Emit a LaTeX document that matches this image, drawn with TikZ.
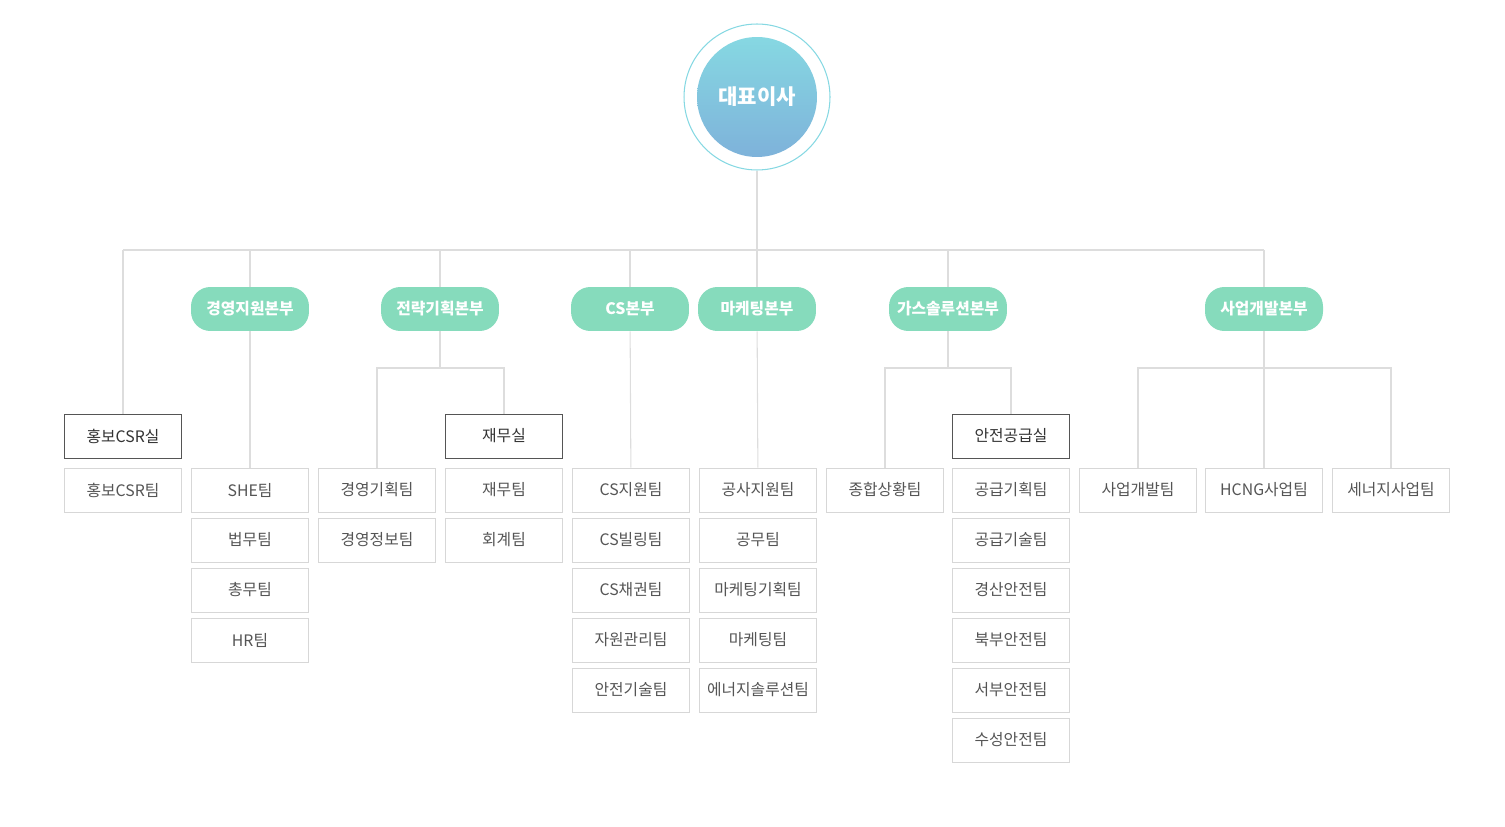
\documentclass[tikz,border=0pt]{standalone}
\usepackage{fontspec}
\setmainfont{Noto Sans CJK KR}
\usetikzlibrary{calc}
\definecolor{linegray}{RGB}{221,221,221}
\definecolor{boxgray}{RGB}{215,215,215}
\definecolor{pillgreen}{RGB}{134,219,188}
\definecolor{ceotop}{RGB}{134,216,226}
\definecolor{ceobottom}{RGB}{126,178,218}
\definecolor{textgray}{RGB}{85,85,85}

\begin{document}
\begin{tikzpicture}[x=0.02cm,y=-0.02cm,
    link/.style={draw=linegray,line width=0.6pt},
    hq/.style={rounded corners=11pt,fill=pillgreen,text=white,font=\bfseries\fontsize{9}{10}\selectfont,minimum width=2.36cm,minimum height=0.88cm,inner sep=0pt},
    room/.style={draw=textgray,line width=0.5pt,fill=white,text=black!80,font=\fontsize{9}{10}\selectfont,minimum width=2.34cm,minimum height=0.88cm,inner sep=0pt},
    team/.style={draw=boxgray,line width=0.5pt,fill=white,text=textgray,font=\fontsize{9}{10}\selectfont,minimum width=2.34cm,minimum height=0.88cm,inner sep=0pt}]
  \useasboundingbox (0,0) rectangle (1505,827);

  % top
  \node[circle,draw=ceotop,line width=0.6pt,minimum size=2.92cm] (ring) at (757,97) {};
  \node[circle,top color=ceotop,bottom color=ceobottom,minimum size=2.4cm,text=white,font=\bfseries\fontsize{12}{14}\selectfont] (ceo) at (757,97) {대표이사};
  \coordinate (bus) at (757,250);

  % headquarters
  \node[hq] (hq1) at (250,309) {경영지원본부};
  \node[hq] (hq2) at (440,309) {전략기획본부};
  \node[hq] (hq3) at (630,309) {CS본부};
  \node[hq] (hq4) at (757,309) {마케팅본부};
  \node[hq] (hq5) at (948,309) {가스솔루션본부};
  \node[hq] (hq6) at (1264,309) {사업개발본부};

  % rooms
  \node[room] (prroom) at (123,436) {홍보CSR실};
  \node[room] (finroom) at (504,436) {재무실};
  \node[room] (safeyroom) at (1011,436) {안전공급실};

  % teams
  \node[team] (pr-1) at (123,490) {홍보CSR팀};
  \foreach \t [count=\i] in {SHE팀,법무팀,총무팀,HR팀}
    \node[team] (mg-\i) at (250,{440+50*\i}) {\t};
  \foreach \t [count=\i] in {경영기획팀,경영정보팀}
    \node[team] (st-\i) at (377,{440+50*\i}) {\t};
  \foreach \t [count=\i] in {재무팀,회계팀}
    \node[team] (fi-\i) at (504,{440+50*\i}) {\t};
  \foreach \t [count=\i] in {CS지원팀,CS빌링팀,CS채권팀,자원관리팀,안전기술팀}
    \node[team] (cs-\i) at (631,{440+50*\i}) {\t};
  \foreach \t [count=\i] in {공사지원팀,공무팀,마케팅기획팀,마케팅팀,에너지솔루션팀}
    \node[team] (mk-\i) at (758,{440+50*\i}) {\t};
  \node[team] (gs-1) at (885,490) {종합상황팀};
  \foreach \t [count=\i] in {공급기획팀,공급기술팀,경산안전팀,북부안전팀,서부안전팀,수성안전팀}
    \node[team] (sf-\i) at (1011,{440+50*\i}) {\t};
  \node[team] (bd-1) at (1138,490) {사업개발팀};
  \node[team] (bd-2) at (1264,490) {HCNG사업팀};
  \node[team] (bd-3) at (1391,490) {세너지사업팀};

  % connectors
  \begin{scope}[on background layer/.style={}]
    \draw[link] (ring) -- (bus);
    \draw[link] (prroom.north |- bus) -- (hq6.north |- bus);
    \draw[link] (prroom) -- (prroom |- bus);
    \foreach \h in {hq1,hq2,hq3,hq4,hq5,hq6}
      \draw[link] (\h) -- (\h |- bus);
    \draw[link] (hq1) -- (mg-1);
    \draw[link] (hq3) -- (cs-1);
    \draw[link] (hq4) -- (mk-1);
    \draw[link] (hq2) -- ($(hq2)+(0,59)$) coordinate (st-fork);
    \draw[link] (st-1) |- (st-fork) -| (finroom);
    \draw[link] (hq5) -- ($(hq5)+(0,59)$) coordinate (gs-fork);
    \draw[link] (gs-1) |- (gs-fork) -| (safeyroom);
    \draw[link] (hq6) -- (bd-2);
    \draw[link] (bd-1) |- ($(hq6)+(0,59)$) -| (bd-3);
  \end{scope}
\end{tikzpicture}
\end{document}
